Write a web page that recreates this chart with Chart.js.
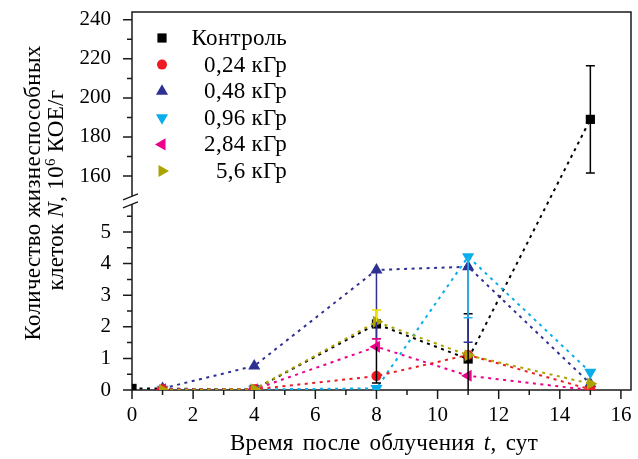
<!DOCTYPE html>
<html><head><meta charset="utf-8">
<script src="https://cdn.jsdelivr.net/npm/chart.js@4.4.0/dist/chart.umd.min.js"></script>
<style>html,body{margin:0;padding:0;background:#fff}</style></head>
<body><canvas id="c" width="638" height="459"></canvas>
<script>
// ---- data ----
const seriesNames = ['Контроль', '0,24 кГр', '0,48 кГр', '0,96 кГр', '2,84 кГр', '5,6 кГр'];
const controlX = [0, 4, 8, 11, 15];
const controlY = [0.05, 0.02, 2.09, 0.98, 189];
const controlErrPlus = [0, 0, 0, 1.43, 27.5];
const controlErrMinus = [0, 0, 1.87, 1.43, 27.5];
const doseX = [1, 4, 8, 11, 15];
const dose024Y = [0.02, 0.02, 0.44, 1.11, 0.02];
const dose048Y = [0.05, 0.76, 3.80, 3.90, 0.20];
const dose048ErrMinus = [0, 0, 2.18, 2.39, 0];
const dose096Y = [0.02, 0.02, 0.05, 4.22, 0.56];
const dose096ErrMinus = [0, 0, 0, 1.93, 0];
const dose284Y = [0.02, 0.02, 1.37, 0.45, 0.0];
const dose284ErrPlus = [0, 0, 0.25, 0, 0];
const dose56Y = [0.0, 0.02, 2.16, 1.10, 0.20];
const dose56ErrPlus = [0, 0, 0.37, 0, 0];
const zeros = [0, 0, 0, 0, 0];
const xTicks = [0, 2, 4, 6, 8, 10, 12, 14, 16];
const xMinorTicks = [1, 3, 5, 7, 9, 11, 13, 15];
const yTicks = [0, 1, 2, 3, 4, 5, 160, 180, 200, 220, 240];
const yMinorTicks = [0.5, 1.5, 2.5, 3.5, 4.5, 5.5, 170, 190, 210, 230];
const yLowerRange = [0, 6];
const yUpperRange = [147.5, 244];

// ---- styles ----
const FONT = '"Liberation Serif", "DejaVu Serif", serif';
const FS = 21;
const TS = 23;
const colors = ['#000000', '#ED1C24', '#2E3192', '#0AADEB', '#EC008C', '#ABA300'];
const errColors = ['#000000', '#ED1C24', '#2E3192', '#29B6EE', '#EC008C', '#EEE000'];
const styles = [
  {pointStyle: 'rect', radius: 6.5, rotation: 0},
  {pointStyle: 'circle', radius: 5, rotation: 0},
  {pointStyle: 'triangle', radius: 7, rotation: 0},
  {pointStyle: 'triangle', radius: 7, rotation: 180},
  {pointStyle: 'triangle', radius: 7, rotation: 270},
  {pointStyle: 'triangle', radius: 7, rotation: 90}
];
const BREAK_FRAC = 0.5016;

// ---- broken y scale ----
class BrokenScale extends Chart.LinearScale {
  getPixelForValue(value) {
    const H = this.bottom - this.top;
    const lowH = H * BREAK_FRAC;
    if (value <= yLowerRange[1]) {
      return this.bottom - (value - yLowerRange[0]) / (yLowerRange[1] - yLowerRange[0]) * lowH;
    }
    return this.bottom - lowH - (value - yUpperRange[0]) / (yUpperRange[1] - yUpperRange[0]) * (H - lowH);
  }
  getValueForPixel(pixel) {
    const H = this.bottom - this.top;
    const lowH = H * BREAK_FRAC;
    const d = this.bottom - pixel;
    if (d <= lowH) return yLowerRange[0] + d / lowH * (yLowerRange[1] - yLowerRange[0]);
    return yUpperRange[0] + (d - lowH) / (H - lowH) * (yUpperRange[1] - yUpperRange[0]);
  }
  buildTicks() {
    return yTicks.map(v => ({value: v}));
  }
}
BrokenScale.id = 'broken';
BrokenScale.defaults = Chart.LinearScale.defaults;
Chart.register(BrokenScale);

function pts(xs, ys) { return xs.map((x, i) => ({x: x, y: ys[i]})); }

const seriesData = [
  {x: controlX, y: controlY, plus: controlErrPlus, minus: controlErrMinus},
  {x: doseX, y: dose024Y, plus: zeros, minus: zeros},
  {x: doseX, y: dose048Y, plus: zeros, minus: dose048ErrMinus},
  {x: doseX, y: dose096Y, plus: zeros, minus: dose096ErrMinus},
  {x: doseX, y: dose284Y, plus: dose284ErrPlus, minus: zeros},
  {x: doseX, y: dose56Y, plus: dose56ErrPlus, minus: zeros}
];
const drawOrder = [6, 2, 4, 3, 5, 1];

const datasets = seriesData.map((s, i) => ({
  label: seriesNames[i],
  data: pts(s.x, s.y),
  showLine: true,
  borderColor: colors[i],
  backgroundColor: colors[i],
  borderWidth: 2,
  borderDash: [3, 4.5],
  pointStyle: styles[i].pointStyle,
  pointRadius: styles[i].radius,
  pointRotation: styles[i].rotation,
  pointBorderWidth: 0,
  pointHoverRadius: styles[i].radius,
  order: drawOrder[i]
}));

function drawRich(ctx, parts, cx, cy) {
  let total = 0;
  parts.forEach(p => { ctx.font = p.font; total += ctx.measureText(p.t).width; });
  let x = cx - total / 2;
  parts.forEach(p => {
    ctx.font = p.font;
    ctx.fillText(p.t, x, cy + (p.dy || 0));
    x += ctx.measureText(p.t).width;
  });
}

const decor = {
  id: 'decor',
  beforeDatasetsDraw(chart) {
    const {ctx, chartArea: a, scales} = chart;
    const xs = scales.x, ys = scales.y;
    ctx.save();
    ctx.strokeStyle = '#1a1a1a';
    ctx.lineWidth = 1.5;
    ctx.beginPath();
    const brk = ys.getPixelForValue(yLowerRange[1]);
    ctx.moveTo(a.left, brk - 4.5); ctx.lineTo(a.left, a.top); ctx.lineTo(a.right, a.top);
    ctx.lineTo(a.right, a.bottom); ctx.lineTo(a.left, a.bottom); ctx.lineTo(a.left, brk + 3.5);
    ctx.stroke();
    ctx.beginPath();
    xTicks.forEach(v => { const p = xs.getPixelForValue(v); ctx.moveTo(p, a.bottom); ctx.lineTo(p, a.bottom + 9); });
    xMinorTicks.forEach(v => { const p = xs.getPixelForValue(v); ctx.moveTo(p, a.bottom); ctx.lineTo(p, a.bottom + 5); });
    yTicks.forEach(v => { const p = ys.getPixelForValue(v); ctx.moveTo(a.left, p); ctx.lineTo(a.left - 9, p); });
    yMinorTicks.forEach(v => { const p = ys.getPixelForValue(v); ctx.moveTo(a.left, p); ctx.lineTo(a.left - 5, p); });
    ctx.stroke();
    ctx.lineWidth = 1.3;
    ctx.beginPath();
    ctx.moveTo(a.left - 9, brk - 0.5); ctx.lineTo(a.left + 6, brk - 6.5);
    ctx.moveTo(a.left - 9, brk + 7.5); ctx.lineTo(a.left + 6, brk + 1.5);
    ctx.stroke();
    ctx.restore();
  },
  afterDatasetsDraw(chart) {
    const {ctx, chartArea: a, scales} = chart;
    const ys = scales.y;
    ctx.save();
    ctx.beginPath();
    ctx.rect(a.left, a.top - 10, a.right - a.left, a.bottom - a.top + 10);
    ctx.clip();
    ctx.lineWidth = 1.5;
    seriesData.forEach((s, i) => {
      const meta = chart.getDatasetMeta(i);
      ctx.strokeStyle = errColors[i];
      s.y.forEach((y, j) => {
        const el = meta.data[j];
        const px = el.x, py = el.y;
        ctx.beginPath();
        if (s.plus[j] > 0) {
          const t = ys.getPixelForValue(y + s.plus[j]);
          ctx.moveTo(px, py); ctx.lineTo(px, t);
          ctx.moveTo(px - 4.5, t); ctx.lineTo(px + 4.5, t);
        }
        if (s.minus[j] > 0) {
          const b = ys.getPixelForValue(y - s.minus[j]);
          ctx.moveTo(px, py); ctx.lineTo(px, b);
          ctx.moveTo(px - 4.5, b); ctx.lineTo(px + 4.5, b);
        }
        ctx.stroke();
      });
    });
    ctx.restore();
  },
  afterDraw(chart) {
    const {ctx} = chart;
    ctx.save();
    ctx.fillStyle = '#000';
    const nf = TS + 'px ' + FONT, itf = 'italic ' + TS + 'px ' + FONT, sf = '15px ' + FONT;
    try { ctx.letterSpacing = '0.3px'; } catch (e) {}
    seriesNames.forEach((n, i) => {
      const y = 38 + 26.6 * i;
      ctx.fillStyle = colors[i];
      Chart.helpers.drawPoint(ctx, {pointStyle: styles[i].pointStyle, radius: styles[i].radius, rotation: styles[i].rotation, borderWidth: 0}, 162, y);
      ctx.fillStyle = '#000';
      ctx.font = nf;
      ctx.textAlign = 'right';
      ctx.textBaseline = 'middle';
      ctx.fillText(n, 287, y + 1);
    });
    ctx.textAlign = 'left';
    ctx.textBaseline = 'alphabetic';
    try { ctx.wordSpacing = '3px'; } catch (e) {}
    drawRich(ctx, [{t: 'Время после облучения ', font: nf}, {t: 't', font: itf}, {t: ', сут', font: nf}], 384, 450);
    try { ctx.wordSpacing = '0px'; } catch (e) {}
    ctx.save();
    ctx.translate(40, 193);
    ctx.rotate(-Math.PI / 2);
    drawRich(ctx, [{t: 'Количество жизнеспособных', font: nf}], 0, 0);
    ctx.restore();
    ctx.save();
    ctx.translate(63, 190);
    ctx.rotate(-Math.PI / 2);
    drawRich(ctx, [{t: 'клеток ', font: nf}, {t: 'N', font: itf}, {t: ', 10', font: nf}, {t: '6', font: sf, dy: -8}, {t: ' КОЕ/г', font: nf}], 0, 0);
    ctx.restore();
    ctx.restore();
  }
};

new Chart(document.getElementById('c'), {
  type: 'scatter',
  data: {datasets: datasets},
  options: {
    responsive: false,
    animation: false,
    devicePixelRatio: 1,
    layout: {padding: {top: 12, right: 5, left: 0, bottom: 0}},
    plugins: {legend: {display: false}, tooltip: {enabled: false}},
    scales: {
      x: {
        type: 'linear', min: 0, max: 16.33,
        grid: {display: false, drawTicks: false},
        border: {display: false},
        afterBuildTicks: s => { s.ticks = xTicks.map(v => ({value: v})); },
        afterFit: s => { s.height = 69; s.paddingLeft = 0; s.paddingRight = 0; },
        ticks: {autoSkip: false, maxRotation: 0, padding: 13, color: '#000', font: {family: FONT, size: FS}, callback: v => String(v)}
      },
      y: {
        type: 'broken', min: 0, max: 244,
        grid: {display: false, drawTicks: false},
        border: {display: false},
        afterFit: s => { s.width = 132; s.paddingTop = 0; s.paddingBottom = 0; },
        ticks: {autoSkip: false, padding: 21, color: '#000', font: {family: FONT, size: FS}, callback: v => String(v)}
      }
    }
  },
  plugins: [decor]
});
</script></body></html>
